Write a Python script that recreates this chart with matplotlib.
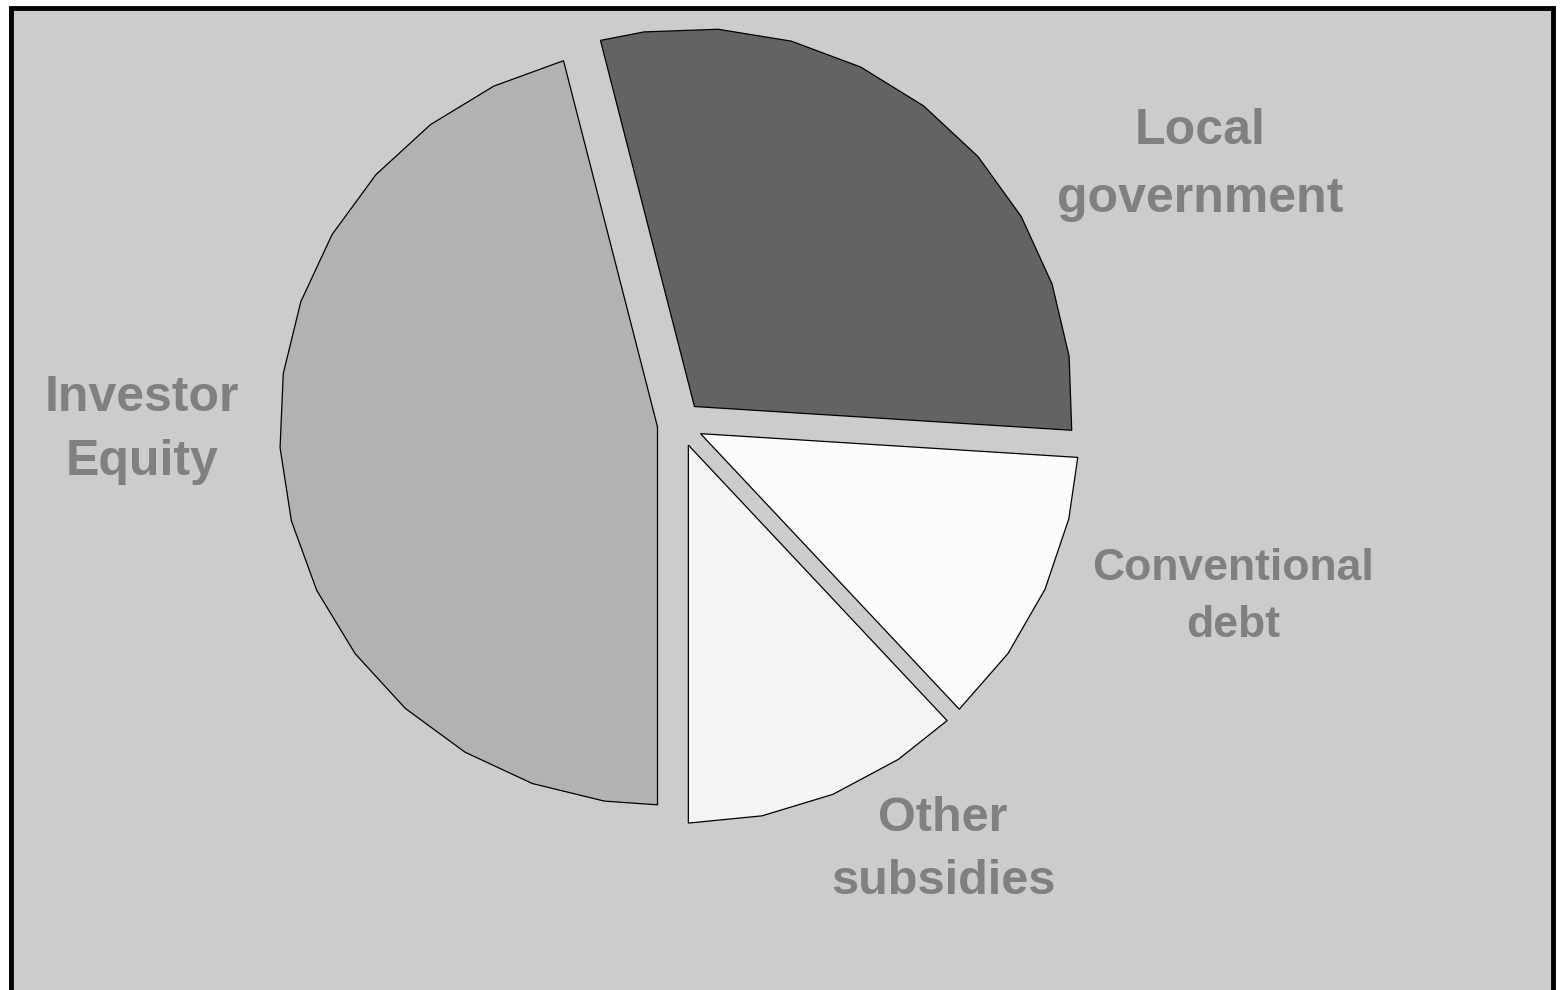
import numpy as np
import matplotlib
matplotlib.use("Agg")
import matplotlib.pyplot as plt
from matplotlib.patches import Polygon, Rectangle

# data (shares in percent)
labels = ["Other\nsubsidies", "Conventional\ndebt", "Local\ngovernment", "Investor\nEquity"]
shares = [12, 12, 30, 46]
colors = ["#f5f5f5", "#fcfcfc", "#636363", "#b2b2b2"]
label_pos = [(0.696, -1.127), (1.463, -0.458), (1.376, 0.685), (-1.423, -0.016)]
label_size = [35, 32, 36, 36]
label_spacing = [1.5, 1.5, 1.6, 1.5]

BG = "#cccccc"

fig = plt.figure(figsize=(15.6, 9.9), dpi=100)
fig.patch.set_facecolor("white")

ax = fig.add_axes([0, 0, 1, 1])
ax.set_facecolor("none")

# grey panel with black frame (bottom edge runs off the picture)
ax.add_patch(Rectangle((11 / 1560, -0.05), 1542 / 1560, 1.05 - 8 / 990,
                       transform=fig.transFigure, facecolor=BG, edgecolor="black",
                       linewidth=3.5, zorder=-10, clip_on=False))

wedges, _ = ax.pie(shares, colors=colors, startangle=270, counterclock=True,
                   explode=[0.06] * 4, radius=1.0,
                   wedgeprops=dict(edgecolor="black", linewidth=0.9))

# the original was drawn with a coarse polygon (32 steps per turn) instead of a true arc
step = 11.25
for w in wedges:
    cx, cy = w.center
    t1, t2 = w.theta1, w.theta2
    angs = list(np.arange(t1, t2 - 0.5, step)) + [t2]
    angs = np.radians(angs)
    pts = [(cx, cy)] + [(cx + w.r * np.cos(a), cy + w.r * np.sin(a)) for a in angs]
    poly = Polygon(pts, closed=True, facecolor=w.get_facecolor(),
                   edgecolor="black", linewidth=0.9, joinstyle="miter", zorder=1)
    w.remove()
    ax.add_patch(poly)

for lab, (x, y), fs, ls in zip(labels, label_pos, label_size, label_spacing):
    ax.text(x, y, lab, ha="center", va="center", fontsize=fs, fontweight="bold",
            color="#808080", family="Liberation Sans", linespacing=ls, zorder=2)

# pie centre sits at pixel (680, 424), radius 378 px
scale = 378.0
ax.set_xlim(-680 / scale, (1560 - 680) / scale)
ax.set_ylim(-(990 - 424) / scale, 424 / scale)
ax.set_aspect("auto")
ax.axis("off")

fig.savefig("out.png", dpi=100, facecolor=fig.get_facecolor())
